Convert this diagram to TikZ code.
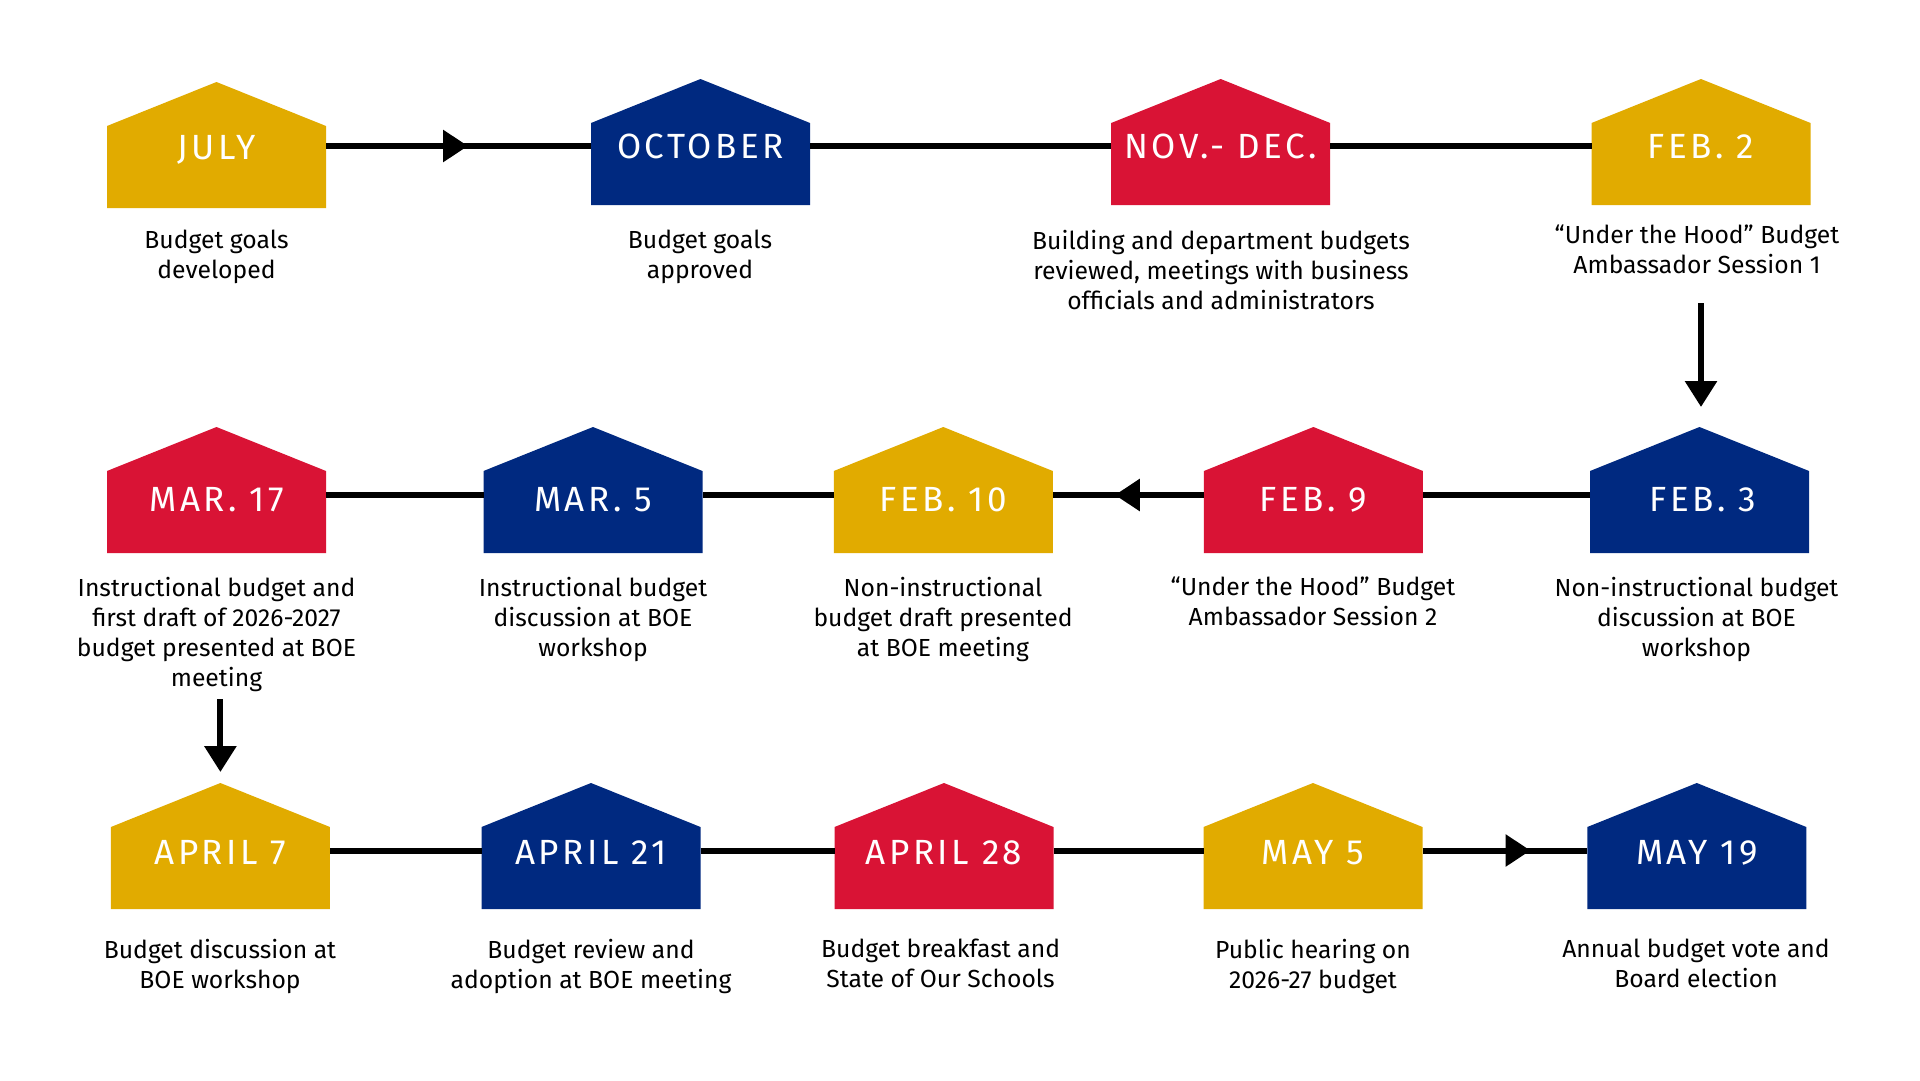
\documentclass[tikz,border=0pt]{standalone}
\usepackage{fontspec}
\setmainfont{Fira Sans}
\newfontfamily\titlefam[LetterSpace=10]{Fira Sans}
\usetikzlibrary{arrows.meta,decorations.markings}
\definecolor{gold}{HTML}{E1AB00}
\definecolor{navy}{HTML}{002980}
\definecolor{crimson}{HTML}{D91335}
\tikzset{
  house/.style={minimum width=219pt, minimum height=126pt, inner sep=0pt, outer sep=0pt,
    path picture={\fill[#1] (path picture bounding box.south west)
      -- ([yshift=-44pt]path picture bounding box.north west)
      -- (path picture bounding box.north)
      -- ([yshift=-44pt]path picture bounding box.north east)
      -- (path picture bounding box.south east) -- cycle;}},
  ttl/.style={font=\titlefam\fontsize{35}{35}\selectfont, text=white, anchor=base, inner sep=0pt},
  desc/.style={font=\fontsize{24.7}{30}\selectfont, align=center, anchor=north, inner sep=0pt, text=black},
  conn/.style={line width=6pt, black},
  tip/.style={-{Triangle[length=26pt,width=31pt]}},
  midarrow/.style={postaction={decorate}, decoration={markings,
    mark=at position #1 with {\arrow{Triangle[length=25pt,width=31pt]}}}},
}
\begin{document}
\begin{tikzpicture}[x=1pt,y=-1pt]
\useasboundingbox[fill=white] (0,0) rectangle (1920,1080);

% row 1
\node[house=gold]    (jul) at (216.5,145) {};
\node[house=navy]    (oct) at (700.5,142) {};
\node[house=crimson] (nov) at (1220.7,142) {};
\node[house=gold]    (feb2) at (1701,142) {};
% row 2
\node[house=crimson] (mar17) at (216.5,490) {};
\node[house=navy]    (mar5) at (593,490) {};
\node[house=gold]    (feb10) at (943.3,490) {};
\node[house=crimson] (feb9) at (1313.4,490) {};
\node[house=navy]    (feb3) at (1699.5,490) {};
% row 3
\node[house=gold]    (apr7) at (220.4,846) {};
\node[house=navy]    (apr21) at (591,846) {};
\node[house=crimson] (apr28) at (944,846) {};
\node[house=gold]    (may5) at (1313,846) {};
\node[house=navy]    (may19) at (1696.8,846) {};

% connectors row 1
\draw[conn, midarrow=142pt] ([yshift=-1pt]jul.east) -- ([yshift=-4pt]oct.west);
\draw[conn] ([yshift=-4pt]oct.east) -- ([yshift=-4pt]nov.west);
\draw[conn] ([yshift=-4pt]nov.east) -- ([yshift=-4pt]feb2.west);
\draw[conn, tip, shorten <=98pt, shorten >=20pt] (feb2.south) -- (feb2.south |- feb3.north);
% connectors row 2
\draw[conn] ([yshift=-5pt]feb3.west) -- ([yshift=-5pt]feb9.east);
\draw[conn, midarrow=89pt] ([yshift=-5pt]feb9.west) -- ([yshift=-5pt]feb10.east);
\draw[conn] ([yshift=-5pt]feb10.west) -- ([yshift=-5pt]mar5.east);
\draw[conn] ([yshift=-5pt]mar5.west) -- ([yshift=-5pt]mar17.east);
\draw[conn, tip, shorten <=146pt, shorten >=11pt] (apr7.north |- mar17.south) -- (apr7.north);
% connectors row 3
\draw[conn] ([yshift=-4.5pt]apr7.east) -- ([yshift=-4.5pt]apr21.west);
\draw[conn] ([yshift=-4.5pt]apr21.east) -- ([yshift=-4.5pt]apr28.west);
\draw[conn] ([yshift=-4.5pt]apr28.east) -- ([yshift=-4.5pt]may5.west);
\draw[conn, midarrow=108pt] ([yshift=-4.5pt]may5.east) -- ([yshift=-4.5pt]may19.west);

% titles
\node[ttl] (tjul) at (216.5,159) {JULY};
\node[ttl] (toct) at (700.5,158) {OCTOBER};
\node[ttl] (tnov) at (1220.7,158) {NOV.- DEC.};
\node[ttl] (tfeb2) at (1701,158) {FEB. 2};
\node[ttl] (tmar17) at (216.5,511) {MAR. 17};
\node[ttl] (tmar5) at (593,511) {MAR. 5};
\node[ttl] (tfeb10) at (943.3,511) {FEB. 10};
\node[ttl] (tfeb9) at (1313.4,511) {FEB. 9};
\node[ttl] (tfeb3) at (1703,511) {FEB. 3};
\node[ttl] (tapr7) at (220.4,864) {APRIL 7};
\node[ttl] (tapr21) at (591,864) {APRIL 21};
\node[ttl] (tapr28) at (944,864) {APRIL 28};
\node[ttl] (tmay5) at (1313,864) {MAY 5};
\node[ttl] (tmay19) at (1696.8,864) {MAY 19};

% descriptions
\node[desc] (djul) at (216.5,230) {Budget goals\\developed};
\node[desc] (doct) at (700,230) {Budget goals\\approved};
\node[desc] (dnov) at (1221,230) {Building and department budgets\\reviewed, meetings with business\\officials and administrators};
\node[desc] (dfeb2) at (1697,225) {“Under the Hood” Budget\\Ambassador Session 1};
\node[desc] (dmar17) at (216.5,577) {Instructional budget and\\first draft of 2026-2027\\budget presented at BOE\\meeting};
\node[desc] (dmar5) at (593,577) {Instructional budget\\discussion at BOE\\workshop};
\node[desc] (dfeb10) at (943,577) {Non-instructional\\budget draft presented\\at BOE meeting};
\node[desc] (dfeb9) at (1313,577) {“Under the Hood” Budget\\Ambassador Session 2};
\node[desc] (dfeb3) at (1696.5,577) {Non-instructional budget\\discussion at BOE\\workshop};
\node[desc] (dapr7) at (220,939) {Budget discussion at\\BOE workshop};
\node[desc] (dapr21) at (591,939) {Budget review and\\adoption at BOE meeting};
\node[desc] (dapr28) at (940.6,939) {Budget breakfast and\\State of Our Schools};
\node[desc] (dmay5) at (1313,939) {Public hearing on\\2026-27 budget};
\node[desc] (dmay19) at (1696,939) {Annual budget vote and\\Board election};
\end{tikzpicture}
\end{document}
